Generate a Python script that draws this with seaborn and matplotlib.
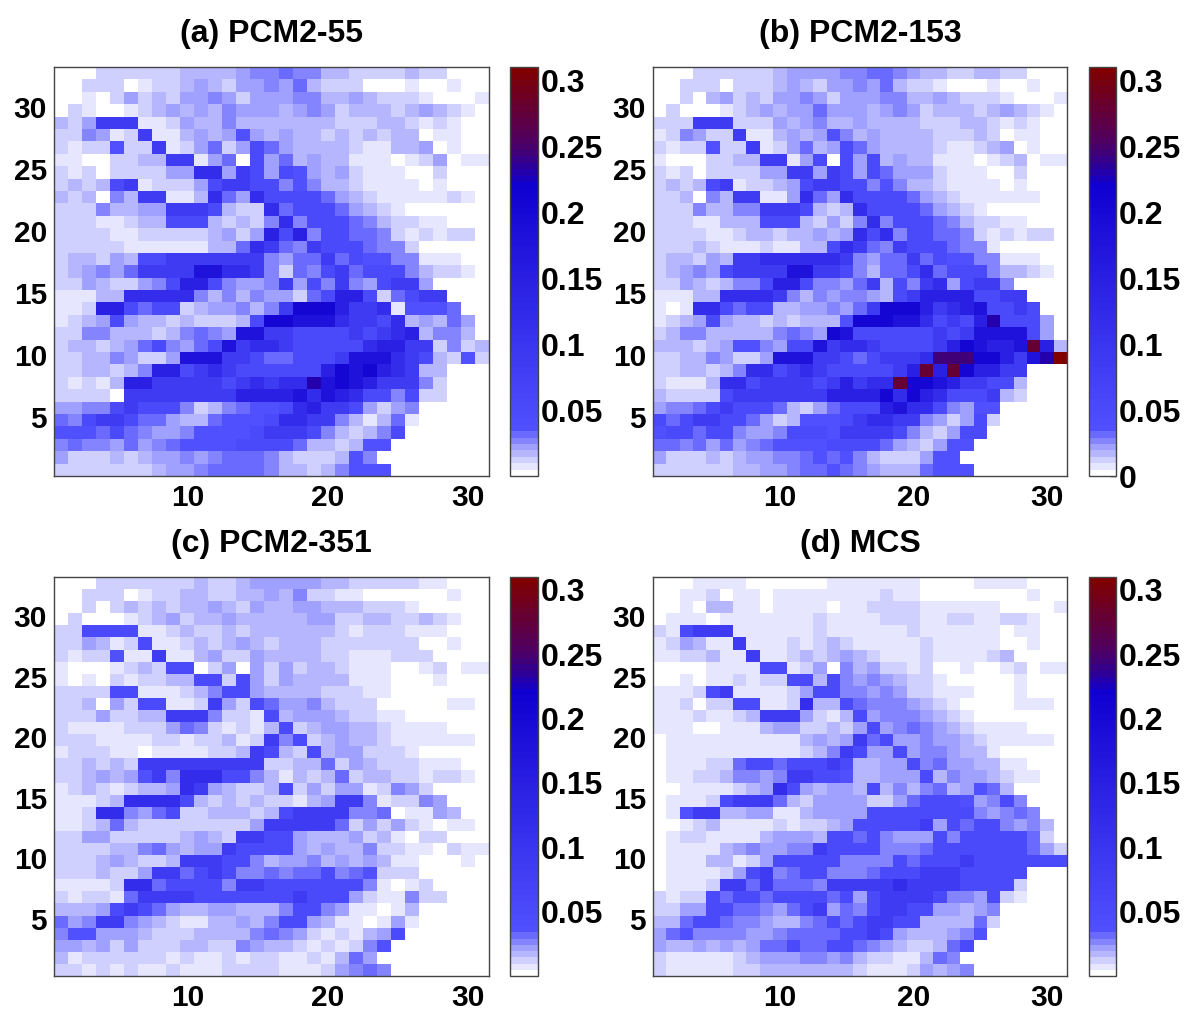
import numpy as np
import matplotlib
matplotlib.use("Agg")
import matplotlib.pyplot as plt
from matplotlib.colors import ListedColormap, to_rgb
import seaborn as sns

# --- colour level codes, rows run y=33 down to y=1 ---
PCM2_55 = [
    "000 222222 3333 4 55 6 55 33 2222 3 22 000",
    "00 222 0 1 22 3 4 3 2 44 5 4 6 3 222 000 1 00 1 00",
    "00 1 0 2 4 2 3 2 44 5 4 2 444 55 33 4 3 222 1 000 1",
    "0 2 1 00 1 2 3 4 3 4 3 5 444 3 4 5 4 2 333 2 3 4 3 2 1 0",
    "3 2 4 999 11 2 4 33 5 3333333 222 33 2 1 2 1 00",
    "22 5 4 1 2 9 11 3 4 3 4 7 4 3 4 33 2 3 2 3 2 33 0 11 00",
    "2 1 22 7 22 9 1 2 4 6 2 4 8 6 4 3333 2 11 33 4 0 1 00",
    "11 00 22 33 99 1 4 6 0 8 4 6 3 4 33 111 0 1 2 4 0 11",
    "2 1 2 0 2222 44 aa 4 9 8 4 8 7 4 3 4 2 111 00 2 000",
    "2 3 2 3 8 9 1 222 4 8 99 88 5 7 5 33 2 1111 0 1 000",
    "3 2 3 0 5 3 99 11 3 a 6 4 a 8888 6 4 3 2 11111 2 1 0",
    "222 5 33 44 999 8 3 22 a 6 888 6 4 3 2 1 000000",
    "222 11 2 33 888 3 2 3 2 5 a 5 888 6 5 3 22 11 000",
    "2222 11 22222 3 4 2 4 b 8 b 5 88 66 5 2 1 2 1 22 0",
    "22222 111111 33 6 a 9 6 5 9 888 6 55 2 00000",
    "2 33 2 4 3 88 999999 9 5 4 66 9 6 8 77 55 111 00",
    "2 3 4 5 4 6 99 9 9 cc aa 9 5 2 6 5 8 9 6 888 5 3 22 1 0",
    "22 4 3 22 4 5 8 bb 8 5 44 5 9 4 8 5 9 5 4 8 99 4 0000",
    "111 33 aaaa a 5 3 5 3 5 44 2 6 8 bb 8 2 6 8 99 000",
    "11 2 bb 8 6 88 2 3 44 5 3 5 9 ddd b 9 9 a 1 777 6 00",
    "1 2 3 4 8 4 33 2 3 222 3 8 dd c cc a 99 8 a 3 4 3 6 4 0",
    "22 55 333 2 3 5 6 5 4 cc 99 8888 9 8 9 a b 3 55 3 0",
    "2 33 2 3 4 6 8 5 4 6 8 c 9 aa 9 88888 a bb 99 2 5 2 3",
    "22 33 5 4 22 4 ccc 99 8 66 8 8 8 9 ccc a 9 8 3 2 7 2",
    "22 33 2 3 5 bb 8 9 a 9 888888 b d c d b a 9 33 000",
    "2 1 2 1 3 bb 9 9999 8 9 a 9 aa e c d c b 9 99 5 2 000",
    "2222 0 9 999999 9 bbbb c a c b a 88 5 8 22 000",
    "44 55 8 9 888 5 2 3 5 6 77 8 a b 99 8 4 2 4 5 00000",
    "6 5 8 99 8 66 4 33 6 777 8 aa 99 5 3 1 3 6 1 00000",
    "777 6 8 6 5 44 5 7777 8 999 8 5 3 2 3 5 8 000000",
    "5 6 55 4 6 4 5 6 7777 8888 6 33 2 3 77 0000000",
    "4 222 3 2 3 44 5 4 5 666 5 3 222 3 7 5 00000000",
    "2222222 3 44 5 6666 5 33 2 3 5 777 0000000",
]

PCM2_153 = [
    "000 222222 3 4444 55 66 5 4 33 22 33 22 000",
    "00 222 0 222 3 4 3 2 44 5 4 6 3 22 1 000 1 00 1 00",
    "00 2 0 3 4 2 3 2 44 5 4 2 444 55 33 4 3 222 1 000 1",
    "0 2 000 1 2 3 4 3 44 6 444 3 4 5 4 2 333 2 3 4 3 2 1 0",
    "222 999 222 4 3 4 5 33 4 3333 222 33 2 1 2 1 00",
    "1 2 5 4 22 9 11 3 4 3 4 7 5 3 4 3333 222 3 2 0 11 00",
    "2 1 22 7 22 9 1 2 4 6 3 4 8 6 4 3333 2 11 2 3 4 0 1 00",
    "1 000 22 33 99 1 4 8 0 8 4 8 3 4 33 111 0 1 2 3 0 11",
    "2 1 2 0 2222 44 99 4 9 8 4 8 6 444 2 111 00 2 000",
    "2 3 2 3 89 1 22 3 4 8 99 88 5 7 5 33 2 1111 0 1 000",
    "22 3 0 5 3 99 11 4 a 6 4 a 8888 6 4 3 2 111111 00",
    "222 5 33 55 999 8 3 2 3 a 8 888 6 4 3 2 1 000000",
    "222 11 333 888 3 2 4 2 5 a 5 888 6 5 3 22 11 000",
    "2222 11 2 33 2 33 4 3 4 a 8 a 5 88 66 5 2 1 2 1 22 0",
    "222 3 2 111 2 11 33 8 a 9 6 5 9 888 6 55 1 00000",
    "2 33 2 4 3 99 aaaaaa 9 5 4 66 9 6 8 77 55 111 00",
    "2 3 4 5 4 8 9999 cc 99 8 5 3 66 8 a 6 888 5 33 2 1 0",
    "22 4 3 2 3 55 8 bb 8 55 4 6 9 3 8 5 9 a 4 8 99 5 0000",
    "111 33 aaaa 9 5 3 5 4 55 4 3 8 9 bbbb 8 8 99 000",
    "1 0 1 aa 8 6 88 33 44 5 4 6 9 ddd b 9 a b c 88 9 8 00",
    "1 2 3 4 8 4 33 2 3 2 333 7 ddd cc a 898 b e 8 88 4 0",
    "2 3 55 33333 5 6 5 4 d c 888888 9 8 9 cccc 8 4 0",
    "333 2 3 4 77 5 4 88 c 9 aa 9 8888 9 b d c bb c g b 3",
    "22 33 5 4 22 4 ccc 99 8 6 8 99 9 a f ff d d b 9 c e h",
    "22 33 2 3 5 aa 8 9 a 9 88888 9 b g b g d bb 99 000",
    "2 111 3 aa 8 999 9 8 9 b 9 aa g dd c b 9 98 8 3 000",
    "3 2222 8 99 99999 bbbb d a d b a 888 9 3 2 000",
    "4 55 6 8 9 888 6 3 2 4 6 888 b c aa 8 5 4 77 00000",
    "8 6 8 99 8 8 6 4 2 3 777 8 9 aa 99 5 4 2 4 8 2 00000",
    "7 88 6 88 5 44 5 888 7 99 99 8 5 3 2 4 8 8 000000",
    "66 5 6 4 6 4 5 6 7777 888 8 6 4 3 2 4 77 0000000",
    "4 222 3 2 3 44 55 6 7 6 7 5 3 222 4 77 00000000",
    "222222 33 44 5 66 7 6 5 4 333 6 777 0000000",
]

PCM2_351 = [
    "000 2222222 3 22 3 44444 33 22222 11 000",
    "00 222 0 1 22 33 22 33 4 3 5 22 11 000000 1 00",
    "00 2 0 2 3 2 3 2 33 4 3 2 4 33 44 333 222 1 00000",
    "0 2 000 1 2 3 4 2 33 4 33333 44 22 33 22 3 2 1 00",
    "22 8888 11 2 3 22 3 2 333333 2 1 222 111 000",
    "22 4 3 1 2 8 11 2 3 2 3 4 3 2 333 2222222 00 1 00",
    "2 1 22 7 11 9 11 3 4 22 4 3333 22 111 222 0000",
    "1 000 1 2 3 2 88 0 2 4 0 4 2 4 2 33 2 111 00 1 2 0 11",
    "1 0 1 0 2 1 22 33 88 2 8 4 2 4 3333 111 000 1 000",
    "2222 88 111 2 3 5 88 4 3333 222 11 0000000",
    "22 3 0 4 2 88 11 2 9 4 2 8 6 44 5 3 222 00000 11 0",
    "222 4 22 33 999 5 22 1 8 3 444 3 22 11 000000",
    "2 1111 222 4 6 5 2 1 2 1 3 8 2 3 44 33 2 1111 000",
    "222 1111 22 1 22 3 1 2 9 5 8 2 3 4 33 2 111111 0",
    "1 222 11 0 1111 22 3 9 8 3 2 8 3 44 222 1 00000",
    "22 3 2 3 2 99999999 9 22 33 6 2 4 3 222 111 00",
    "22 3 4 3 4 7 9 5 a aa 88 5 3 1 3 2 3 6 2 33 22 1 22 1 0",
    "1 2 3 2 1 2 33 4 a 9 4 3 22 3 8 2 4 2 44 1 2 5 4 2 0000",
    "111 2 3 aaaa 8 3 2 3 2 3 22 1 3 4 99 5 1 22 5 4 000",
    "11 2 aa 5 4 6 8 22 333 2 3 8 9999 55 6 0 11 4 3 00",
    "11 2 3 6 3 22222222 4 99999 6 2 4 2 4 2 1 0 11 0",
    "22 44 22222 3 4 3 2 99 88 4 333 4 2 3 1 0 22 000",
    "2222 33 5 6 4 3 44 9 8 88 8 4 3 4 33 5 22 11 0 2 11",
    "222 3 4 3 22 3 999 88 5 3 44 5 3 4 3 4 3 11 000 1 0",
    "222 3 22 4 99 6 8 98 55 6 5 66 8 5 6 7 222 00000",
    "1111 2 aa 6 8888 5 9 9 8888888 5 1 0 1 2 0000",
    "2 1 22 1 6 9999 888 8888 9 8 88 4 2 11 5 22 000",
    "333 4 8 98 6 4 33 44 333 5 88 5 4 11 0 1 3 00000",
    "6 4 5 99 5 4 3 2 11 33 4 3 5 88 4 3 11 0 1 4 1 00000",
    "5 77 444 3 222 3333 5 6 5 4 2 1 2 1 3 4 8 000000",
    "44 3 4 2 4 222 33 22 5 4 33 2 1 2 1 2 5 7 0000000",
    "3 1 222222 1 2 11 2 1 22 11 2 1 3 6 4 00000000",
    "22 1 2 1 2 11 2 111 2222 111 2 4 5 6 5 0000000",
]

MCS = [
    "000 1111 000000 1111111 0000 1111 000",
    "00 11 2 0 11 0 11111111 2 11 00000000 1 00",
    "00 1 0 33 11 0 1111 0 11 2222 111111 0000 1",
    "0 111 0 1111111 2 1111 222 11 22 11 22 1 00",
    "2 1 8 99 9 111111 2 111111 2 111111 0 11 00",
    "1 2 4 3 11 9 111 2 1 2 3 2 11111 2 11111 00 1 00",
    "11 22 3 11 9 11 2 3 2 3 4 3 2 111 2 1111 2 3 0000",
    "0000 1111 88 1 2 4 0 5 3 4 22 1 2 00 1 00 1 2 0 11",
    "00 1 0 11 2 1 22 88 3 8 5 4 5 4 3 22 1 00000 1 000",
    "111 2 8 9 1111 2 4 88 55 4 5 4 22 111 000 1 000",
    "11 2 0 22 88 11 2 a 33 8 6 555 4 3 2 1 0000 111 0",
    "111 2 11 2 3 999 4 2 1 3 8 4 555 4 3 2 1 0000000",
    "111 00 111 3 44 22 3 2 4 8 4 5 6 5 4 3 2 1111 000",
    "0 1111111111 3 4 3 4 9 6 8 44 5 44 3 2 11111 0",
    "0 1111111111 2 3 5 9 8 44 8 4 55 4 33 1 00000",
    "0 111 22 6 88 6 8 88 9 8 33 44 8 5 6 44 33 11 000",
    "0 11 22 3 55 4 5 9 9 88 7 33 444 8 3 54 4 3 2 11 00",
    "00 1111 2 3 4 a 8 4 3 44 3 8 3 5 3 5 6 3 4 7 6 3 0000",
    "0 111 2 8 999 6 3 2 4444 22 4 6 888 7 4 5 8 5 000",
    "0 1 7 99 33 44 11 3 4444 88888 88 8 5 4 5 6 5 00",
    "00 1 2 3 1111 2 1 22 3 4 88888 9 4 8 6 88 5 4 5 3 0",
    "0 1 22 1111 3 444 3 88 6 8 5 444 8 5 88888 6 2 0",
    "0 1111 3 4 5 44 55 9 8 888 555 6 8888 888 6 4 2",
    "0 111 33 1 2 4 8 8888 55 55 8 6 888 9 8888888",
    "0 1111 2 4 8 9 5 6 8 8 555 6 88 89998 8888 000",
    "0 111 2 99 6 9 666 5 99 999 a 99 99 8888 2 000",
    "2 1 22 8 6 88 6 888 8 6 8 4 8 999 9 8 55 4 8 2 1 000",
    "22 44 88 66 5 4 6 89 4 6 5 8 99 88 44 3 4 5 00000",
    "33 6 88 6 55 4 33 5 6 8 6 8 99 88 3333 6 2 00000",
    "4 6 7 5555 44 5 6666 8 898 4 333 4 5 7 000000",
    "4 33 4 3 4 3 4 66 8 66 88 6 5 4 3 22 3 6 8 0000000",
    "2 11111 2 3 444 55 4 5 3 22 11 3 6 5 00000000",
    "2 11111 22 3333333 2 111 2 4 3 4 5 0000000",
]

TITLES = ["(a) PCM2-55", "(b) PCM2-153", "(c) PCM2-351", "(d) MCS"]
X_TICKS = [10, 20, 30]
Y_TICKS = [5, 10, 15, 20, 25, 30]
CBAR_TICKS = [0.05, 0.1, 0.15, 0.2, 0.25, 0.3]
CBAR_LABELS = ["0.05", "0.1", "0.15", "0.2", "0.25", "0.3"]

# which of the 64 colormap steps each code stands for
CODE_LEVEL = {"0": 0, "1": 1, "2": 2, "3": 3, "4": 4, "5": 5, "6": 6, "7": 7,
              "8": 10, "9": 17, "a": 24, "b": 30, "c": 36, "d": 42,
              "e": 47, "f": 50, "g": 57, "h": 63}
VMAX = 0.31
N_LEVELS = 64


def decode(rows):
    out = []
    for r in rows:
        r = r.replace(" ", "")
        out.append([(CODE_LEVEL[ch] + 0.5) / N_LEVELS * VMAX for ch in r])
    return np.array(out)


def build_cmap():
    # first steps are hand read, the rest fades through the anchors
    colors = ["#ffffff", "#e6e6ff", "#d0d0ff", "#b6b6ff", "#a0a0ff", "#8484ff", "#6a6aff"]
    anchors = [(7, "#5050ff"), (45, "#1000d0"), (48, "#2c0098"), (50, "#400078"),
               (52, "#500060"), (63, "#800000")]
    lv = [a[0] for a in anchors]
    rgb = np.array([to_rgb(a[1]) for a in anchors])
    for i in range(7, N_LEVELS):
        colors.append(tuple(np.interp(i, lv, rgb[:, k]) for k in range(3)))
    return ListedColormap(colors)


sns.set_style("white")
plt.rcParams["font.family"] = ["Liberation Sans", "DejaVu Sans"]
plt.rcParams["font.weight"] = "bold"

W, H = 1184, 1010
fig = plt.figure(figsize=(W / 100, H / 100), dpi=100)
cmap = build_cmap()

# pixel boxes of each panel: left, right, top, bottom
boxes = [(54, 489, 67, 476), (653, 1067, 67, 476), (54, 489, 577, 976), (653, 1067, 577, 976)]
cboxes = [(510, 538), (1089, 1116), (510, 538), (1089, 1116)]
panels = [PCM2_55, PCM2_153, PCM2_351, MCS]

for i, rows in enumerate(panels):
    l, r, t, b = boxes[i]
    ax = fig.add_axes([l / W, 1 - b / H, (r - l) / W, (b - t) / H])
    cl, cr = cboxes[i]
    cax = fig.add_axes([cl / W, 1 - b / H, (cr - cl) / W, (b - t) / H])
    data = decode(rows)
    sns.heatmap(data, ax=ax, cbar_ax=cax, cmap=cmap, vmin=0, vmax=VMAX, square=False)

    ax.set_xticks([v - 0.5 for v in X_TICKS])
    ax.set_xticklabels(X_TICKS, rotation=0)
    ax.set_yticks([data.shape[0] - v + 0.5 for v in Y_TICKS])
    ax.set_yticklabels(Y_TICKS, rotation=0)
    ax.tick_params(direction="in", length=4, width=1, color="#222222", labelcolor="black",
                   labelsize=21.5, top=True, right=True, bottom=True, left=True)
    ax.tick_params(axis="x", pad=6)
    ax.tick_params(axis="y", pad=5)
    for s in ax.spines.values():
        s.set_visible(True)
        s.set_color("#444444")
        s.set_linewidth(1)
    ax.set_title(TITLES[i], fontsize=23, fontweight="bold", color="black", pad=18)

    # only panel (b) shows the 0 label on its bar
    if i == 1:
        cax.set_yticks([0] + CBAR_TICKS)
        cax.set_yticklabels(["0"] + CBAR_LABELS)
    else:
        cax.set_yticks(CBAR_TICKS)
        cax.set_yticklabels(CBAR_LABELS)
    cax.tick_params(direction="in", length=4, width=1, color="#222222", labelcolor="black",
                    labelsize=23, pad=2, right=True, left=False)
    cb = ax.collections[0].colorbar
    cb.outline.set_visible(True)
    cb.outline.set_edgecolor("#444444")
    cb.outline.set_linewidth(1)

fig.savefig("out.png", dpi=100)
